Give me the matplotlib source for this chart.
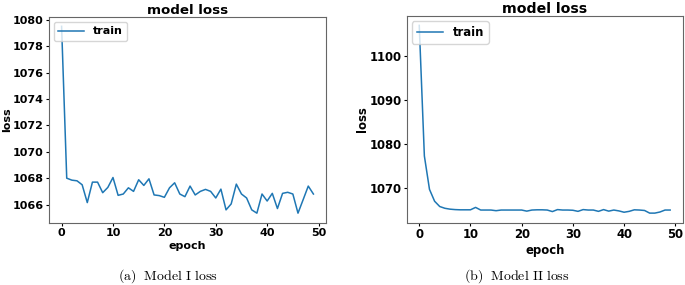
import matplotlib
matplotlib.use("Agg")
import matplotlib.pyplot as plt

epochs = list(range(50))

loss_model1 = [1079.5, 1068.0, 1067.85, 1067.8, 1067.5, 1066.15, 1067.7, 1067.7, 1066.9, 1067.3,
               1068.05, 1066.7, 1066.8, 1067.27, 1067.0, 1067.88, 1067.45, 1067.95, 1066.73, 1066.68,
               1066.55, 1067.27, 1067.65, 1066.8, 1066.6, 1067.4, 1066.73, 1067.0, 1067.15, 1067.0,
               1066.5, 1067.17, 1065.6, 1066.05, 1067.55, 1066.8, 1066.5, 1065.6, 1065.35, 1066.8,
               1066.27, 1066.85, 1065.7, 1066.85, 1066.93, 1066.8, 1065.35, 1066.37, 1067.4, 1066.8]

loss_model2 = [1107.0, 1077.3, 1069.7, 1067.0, 1065.8, 1065.4, 1065.2, 1065.1, 1065.05, 1065.05,
               1065.05, 1065.6, 1065.0, 1065.0, 1065.0, 1064.85, 1065.0, 1065.0, 1065.0, 1065.0,
               1065.0, 1064.75, 1065.0, 1065.05, 1065.05, 1065.0, 1064.65, 1065.1, 1065.0, 1065.0,
               1064.95, 1064.7, 1065.1, 1065.0, 1065.0, 1064.7, 1065.1, 1064.75, 1065.0, 1064.8,
               1064.5, 1064.7, 1065.05, 1065.0, 1064.9, 1064.3, 1064.3, 1064.55, 1065.0, 1065.0]

xticks = [0, 10, 20, 30, 40, 50]
yticks1 = [1066, 1068, 1070, 1072, 1074, 1076, 1078, 1080]
yticks2 = [1070, 1080, 1090, 1100]
titles = ["model loss", "model loss"]
captions = [r"$\mathrm{(a)\ \ Model\ I\ loss}$", r"$\mathrm{(b)\ \ Model\ II\ loss}$"]
legend_label = "train"
xlabel = "epoch"
ylabel = "loss"

plt.rcParams["mathtext.fontset"] = "cm"
plt.rcParams["font.family"] = ["DejaVu Sans"]

fig = plt.figure(figsize=(6.85, 2.85), dpi=100)
ax1 = fig.add_axes([49 / 685, 1 - 222.5 / 285, 277 / 685, 205.5 / 285])
ax2 = fig.add_axes([406.7 / 685, 1 - 222.5 / 285, 276 / 685, 206.5 / 285])

specs = [(ax1, loss_model1, titles[0], yticks1, 8.0, 9.6),
         (ax2, loss_model2, titles[1], yticks2, 8.4, 10.2)]

for ax, data, title, yt, fs, tfs in specs:
    ax.plot(epochs, data, color="#1f77b4", linewidth=1.1, label=legend_label)
    ax.set_title(title, fontsize=tfs, fontweight="bold", pad=1.5)
    ax.set_xlabel(xlabel, fontsize=fs, fontweight="bold", labelpad=2)
    ax.set_ylabel(ylabel, fontsize=fs, fontweight="bold", labelpad=0)
    ax.set_xticks(xticks)
    ax.set_yticks(yt)
    ax.tick_params(length=2.4, pad=1.4, labelsize=fs)
    for lab in ax.get_xticklabels() + ax.get_yticklabels():
        lab.set_fontweight("bold")
        lab.set_fontsize(fs)
    for sp in ax.spines.values():
        sp.set_color("#666666")
    ax.legend(loc="upper left", prop={"weight": "bold", "size": fs},
              borderaxespad=0.45, handlelength=2.3, borderpad=0.4)

fig.text(168 / 685, 1 - 276 / 285, captions[0], ha="center", va="center", fontsize=10)
fig.text(517 / 685, 1 - 276 / 285, captions[1], ha="center", va="center", fontsize=10)

fig.savefig("out.png", dpi=100)
